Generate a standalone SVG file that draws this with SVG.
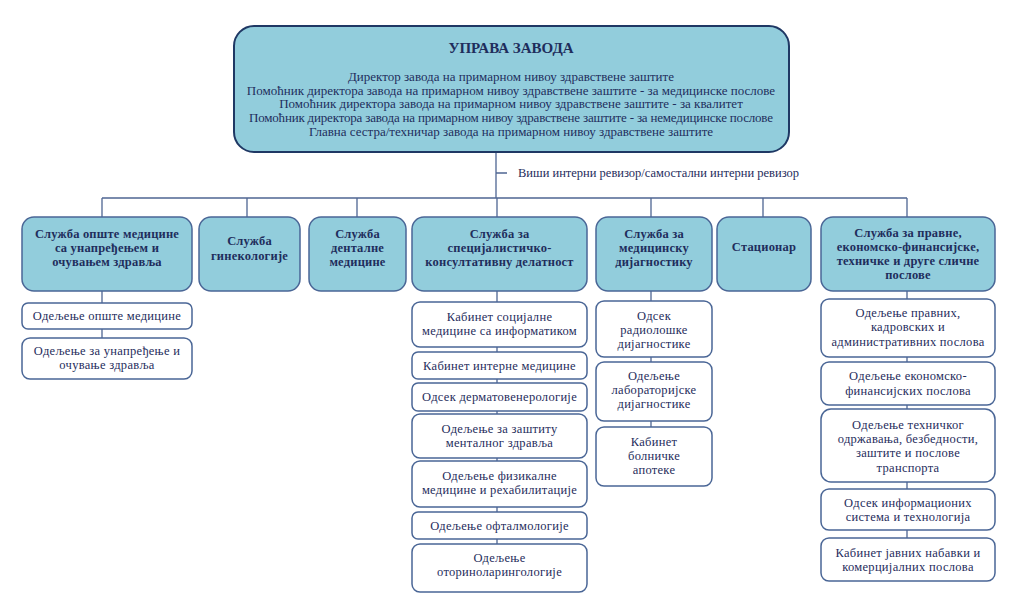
<svg xmlns="http://www.w3.org/2000/svg" width="1024" height="615" viewBox="0 0 1024 615" font-family="'Liberation Serif', 'DejaVu Serif', serif">
<style>
text{font-family:"Liberation Serif","DejaVu Serif",serif;fill:#1F2D5C;text-anchor:middle;dominant-baseline:central}
.top{fill:#92CDDC;stroke:#1F3864;stroke-width:2}
.svc{fill:#92CDDC;stroke:#4A6696;stroke-width:1.5}
.sub{fill:#FFFFFF;stroke:#4A6696;stroke-width:1.5}
.t{font-size:15px;font-weight:bold}
.l{font-size:13px}
.b{font-size:12.5px;font-weight:bold;letter-spacing:0.2px}
.s{font-size:12.5px;letter-spacing:0.3px}
.c{stroke:#4F6693;stroke-width:1.3;fill:none}
.lbl{text-anchor:start;font-size:12.5px}
</style>
<rect width="1024" height="615" fill="#FFFFFF"/>
<g id="connectors">
<path class="c" d="M496,152V198M496,173H507M102,198H907M102,198V217M247,198V217M357,198V217M497,198V217M651,198V217M763,198V217M907,198V217"/>
<path class="c" d="M102,291V338M497,291V544M651,291V427M907,291V538"/>
</g>
<g id="uprava">
<rect class="top" x="234" y="26" width="555" height="126" rx="20"/>
<text class="t" x="511" y="47.5">УПРАВА ЗАВОДА</text>
<text class="l" x="511" y="76">Директор завода на примарном нивоу здравствене заштите</text>
<text class="l" x="511" y="90">Помоћник директора завода на примарном нивоу здравствене заштите - за медицинске послове</text>
<text class="l" x="511" y="103.5">Помоћник директора завода на примарном нивоу здравствене заштите - за квалитет</text>
<text class="l" x="511" y="117" textLength="524" lengthAdjust="spacing">Помоћник директора завода на примарном нивоу здравствене заштите - за немедицинске послове</text>
<text class="l" x="511" y="131">Главна сестра/техничар завода на примарном нивоу здравствене заштите</text>
</g>
<g id="revizor">
<text class="lbl" x="518" y="173">Виши интерни ревизор/самостални интерни ревизор</text>
</g>
<g id="sluzba-opste">
<rect class="svc" x="22" y="217" width="170" height="74" rx="12"/>
<text class="b" x="107" y="234">Служба опште медицине</text>
<text class="b" x="107" y="248">са унапређењем и</text>
<text class="b" x="107" y="262">очувањем здравља</text>
</g>
<g id="sluzba-ginekologije">
<rect class="svc" x="199" y="217" width="101" height="74" rx="12"/>
<text class="b" x="249.5" y="241">Служба</text>
<text class="b" x="249.5" y="255.5">гинекологије</text>
</g>
<g id="sluzba-dentalne">
<rect class="svc" x="309" y="217" width="97" height="74" rx="12"/>
<text class="b" x="357.5" y="234">Служба</text>
<text class="b" x="357.5" y="248">денталне</text>
<text class="b" x="357.5" y="262">медицине</text>
</g>
<g id="sluzba-specijalisticka">
<rect class="svc" x="412" y="217" width="175" height="74" rx="12"/>
<text class="b" x="499.5" y="233.5">Служба за</text>
<text class="b" x="499.5" y="247.5">специјалистичко-</text>
<text class="b" x="499.5" y="261.5">консултативну делатност</text>
</g>
<g id="sluzba-dijagnostika">
<rect class="svc" x="596" y="217" width="116" height="74" rx="12"/>
<text class="b" x="654" y="233.5">Служба за</text>
<text class="b" x="654" y="247.5">медицинску</text>
<text class="b" x="654" y="261.5">дијагностику</text>
</g>
<g id="stacionar">
<rect class="svc" x="717" y="217" width="94" height="74" rx="12"/>
<text class="b" x="764" y="247">Стационар</text>
</g>
<g id="sluzba-pravne">
<rect class="svc" x="821" y="217" width="174" height="74" rx="12"/>
<text class="b" x="908" y="233">Служба за правне,</text>
<text class="b" x="908" y="247">економско-финансијске,</text>
<text class="b" x="908" y="261">техничке и друге сличне</text>
<text class="b" x="908" y="274.5">послове</text>
</g>
<g id="odeljenje-opste">
<rect class="sub" x="22" y="303" width="170" height="26" rx="6"/>
<text class="s" x="107" y="316">Одељење опште медицине</text>
</g>
<g id="odeljenje-unapredjenje">
<rect class="sub" x="22" y="338" width="170" height="41" rx="8"/>
<text class="s" x="107" y="351">Одељење за унапређење и</text>
<text class="s" x="107" y="365">очување здравља</text>
</g>
<g id="kabinet-socijalne">
<rect class="sub" x="412" y="302" width="175" height="45" rx="8"/>
<text class="s" x="499.5" y="317">Кабинет социјалне</text>
<text class="s" x="499.5" y="330.5">медицине са информатиком</text>
</g>
<g id="kabinet-interne">
<rect class="sub" x="412" y="352" width="175" height="27" rx="6"/>
<text class="s" x="499.5" y="366">Кабинет интерне медицине</text>
</g>
<g id="odsek-dermato">
<rect class="sub" x="412" y="383" width="175" height="28" rx="6"/>
<text class="s" x="499.5" y="396.5">Одсек дерматовенерологије</text>
</g>
<g id="odeljenje-mentalno">
<rect class="sub" x="412" y="414" width="175" height="44" rx="8"/>
<text class="s" x="499.5" y="429">Одељење за заштиту</text>
<text class="s" x="499.5" y="442.5">менталног здравља</text>
</g>
<g id="odeljenje-fizikalne">
<rect class="sub" x="412" y="461" width="175" height="46" rx="8"/>
<text class="s" x="499.5" y="476">Одељење физикалне</text>
<text class="s" x="499.5" y="489.5">медицине и рехабилитације</text>
</g>
<g id="odeljenje-oftalmologije">
<rect class="sub" x="412" y="512" width="175" height="27" rx="6"/>
<text class="s" x="499.5" y="525.5">Одељење офталмологије</text>
</g>
<g id="odeljenje-orl">
<rect class="sub" x="412" y="544" width="175" height="48" rx="8"/>
<text class="s" x="499.5" y="558">Одељење</text>
<text class="s" x="499.5" y="572">оториноларингологије</text>
</g>
<g id="odsek-radioloske">
<rect class="sub" x="596" y="301" width="116" height="56" rx="8"/>
<text class="s" x="654" y="316">Одсек</text>
<text class="s" x="654" y="329.5">радиолошке</text>
<text class="s" x="654" y="343.5">дијагностике</text>
</g>
<g id="odeljenje-laboratorijske">
<rect class="sub" x="596" y="362" width="116" height="59" rx="8"/>
<text class="s" x="654" y="376">Одељење</text>
<text class="s" x="654" y="390">лабораторијске</text>
<text class="s" x="654" y="404">дијагностике</text>
</g>
<g id="kabinet-apoteke">
<rect class="sub" x="596" y="427" width="116" height="59" rx="8"/>
<text class="s" x="654" y="442">Кабинет</text>
<text class="s" x="654" y="456">болничке</text>
<text class="s" x="654" y="470">апотеке</text>
</g>
<g id="odeljenje-pravnih">
<rect class="sub" x="821" y="299" width="174" height="58" rx="8"/>
<text class="s" x="908" y="313">Одељење правних,</text>
<text class="s" x="908" y="327">кадровских и</text>
<text class="s" x="908" y="341.5">административних послова</text>
</g>
<g id="odeljenje-ekonomsko">
<rect class="sub" x="821" y="362" width="174" height="43" rx="8"/>
<text class="s" x="908" y="376">Одељење економско-</text>
<text class="s" x="908" y="390.5">финансијских послова</text>
</g>
<g id="odeljenje-tehnickog">
<rect class="sub" x="821" y="409" width="174" height="73" rx="10"/>
<text class="s" x="908" y="425">Одељење техничког</text>
<text class="s" x="908" y="439">одржавања, безбедности,</text>
<text class="s" x="908" y="453">заштите и послове</text>
<text class="s" x="908" y="468">транспорта</text>
</g>
<g id="odsek-informacionih">
<rect class="sub" x="821" y="489" width="174" height="41" rx="8"/>
<text class="s" x="908" y="503">Одсек информационих</text>
<text class="s" x="908" y="517">система и технологија</text>
</g>
<g id="kabinet-javnih">
<rect class="sub" x="821" y="538" width="174" height="43" rx="8"/>
<text class="s" x="908" y="553">Кабинет јавних набавки и</text>
<text class="s" x="908" y="567">комерцијалних послова</text>
</g>
</svg>
